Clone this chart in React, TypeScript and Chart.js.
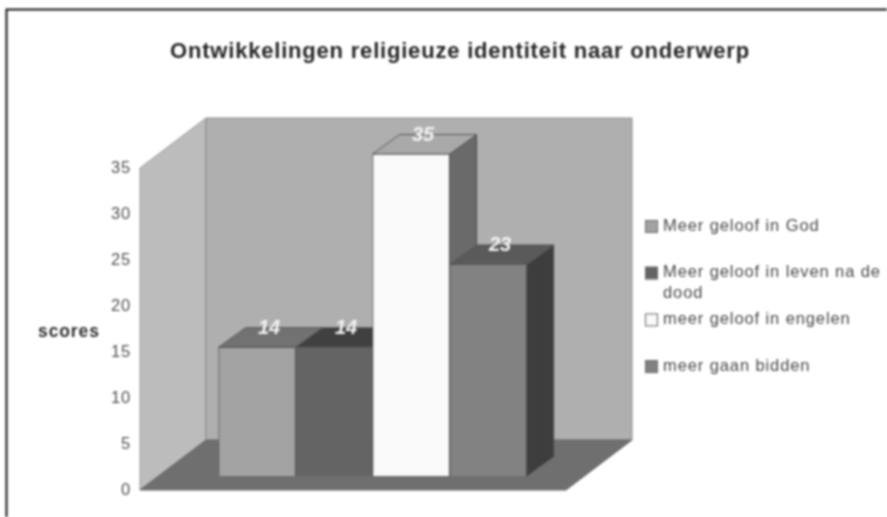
import React, { useEffect, useRef } from "react";
import { Chart, registerables } from "chart.js";

Chart.register(...registerables);

const chartTitle = "Ontwikkelingen religieuze identiteit naar onderwerp";
const axisLabel = "scores";
const seriesNames = [
  "Meer geloof in God",
  "Meer geloof in leven na de dood",
  "meer geloof in engelen",
  "meer gaan bidden",
];
const seriesValues = [14, 14, 35, 23];
const frontColors = ["#a3a3a3", "#646464", "#f9f9f9", "#828282"];
const topColors = ["#727272", "#404040", "#a9a9a9", "#5a5a5a"];
const sideColors = ["#5c5c5c", "#3a3a3a", "#6a6a6a", "#3d3d3d"];

const DEPTH_X = 66;
const DEPTH_Y = 50;
const BAR_DEPTH_X = 27;
const BAR_DEPTH_Y = 19.5;
const FONT = '"Liberation Sans", Arial, sans-serif';

function poly(ctx: CanvasRenderingContext2D, pts: number[][], fill: string, stroke: string) {
  ctx.beginPath();
  pts.forEach((p, i) => (i ? ctx.lineTo(p[0], p[1]) : ctx.moveTo(p[0], p[1])));
  ctx.closePath();
  ctx.fillStyle = fill;
  ctx.fill();
  ctx.strokeStyle = stroke;
  ctx.lineWidth = 1;
  ctx.stroke();
}

const scene = {
  id: "scene",
  beforeDraw(chart: any) {
    // the title and tick labels of the scanned original are widely set
    (chart.ctx as any).letterSpacing = "0.8px";
  },
  beforeDatasetsDraw(chart: any) {
    const { ctx, chartArea: a, scales } = chart;
    (ctx as any).letterSpacing = "0px";
    const y0 = scales.y.getPixelForValue(0);
    const yT = scales.y.getPixelForValue(35);
    const l = a.left;
    const r = a.right;
    ctx.save();
    // page frame
    ctx.strokeStyle = "#141414";
    ctx.lineWidth = 2;
    ctx.beginPath();
    ctx.moveTo(6.5, 517);
    ctx.lineTo(6.5, 9.5);
    ctx.lineTo(887, 9.5);
    ctx.stroke();
    // walls and floor
    poly(ctx, [[l, yT], [l + DEPTH_X, yT - DEPTH_Y], [l + DEPTH_X, y0 - DEPTH_Y], [l, y0]], "#bcbcbc", "#999999");
    poly(ctx, [[l + DEPTH_X, yT - DEPTH_Y], [r + DEPTH_X, yT - DEPTH_Y], [r + DEPTH_X, y0 - DEPTH_Y], [l + DEPTH_X, y0 - DEPTH_Y]], "#afafaf", "#8e8e8e");
    poly(ctx, [[l, y0], [l + DEPTH_X, y0 - DEPTH_Y], [r + DEPTH_X, y0 - DEPTH_Y], [r, y0]], "#6f6f6f", "#6a6a6a");
    // bar depth faces, sized from the bar elements
    chart.data.datasets.forEach((_: any, i: number) => {
      const b = chart.getDatasetMeta(i).data[0];
      const x1 = b.x - b.width / 2;
      const x2 = b.x + b.width / 2;
      const t = b.y;
      const bt = b.base;
      poly(ctx, [[x2, t], [x2 + BAR_DEPTH_X, t - BAR_DEPTH_Y], [x2 + BAR_DEPTH_X, bt - BAR_DEPTH_Y], [x2, bt]], sideColors[i], "#4a4a4a");
      poly(ctx, [[x1, t], [x1 + BAR_DEPTH_X, t - BAR_DEPTH_Y], [x2 + BAR_DEPTH_X, t - BAR_DEPTH_Y], [x2, t]], topColors[i], "#5a5a5a");
    });
    ctx.restore();
  },
  afterDatasetsDraw(chart: any) {
    const { ctx } = chart;
    ctx.save();
    // value labels
    ctx.font = `italic bold 20px ${FONT}`;
    ctx.fillStyle = "#f4f4f4";
    ctx.textAlign = "center";
    ctx.textBaseline = "middle";
    chart.data.datasets.forEach((ds: any, i: number) => {
      const b = chart.getDatasetMeta(i).data[0];
      ctx.fillText(String(ds.data[0].y), b.x + 12, b.y - 19);
    });
    // axis label
    ctx.font = `bold 17.5px ${FONT}`;
    ctx.fillStyle = "#2e2e2e";
    ctx.textAlign = "left";
    (ctx as any).letterSpacing = "0.9px";
    ctx.fillText(axisLabel, 38, 332);
    // legend
    ctx.font = `16.5px ${FONT}`;
    (ctx as any).letterSpacing = "0.9px";
    const legendX = 645;
    const textX = 663;
    chart.data.datasets.forEach((ds: any, i: number) => {
      const y = 226 + i * 46.7;
      ctx.fillStyle = frontColors[i];
      ctx.strokeStyle = "#6a6a6a";
      ctx.lineWidth = 1;
      ctx.fillRect(legendX, y - 6, 12, 12);
      ctx.strokeRect(legendX + 0.5, y - 5.5, 12, 12);
      ctx.fillStyle = "#484848";
      const words = ds.label.split(" ");
      const lines: string[] = [];
      let cur = "";
      for (const w of words) {
        const next = cur ? cur + " " + w : w;
        if (ctx.measureText(next).width > 224 && cur) {
          lines.push(cur);
          cur = w;
        } else cur = next;
      }
      lines.push(cur);
      lines.forEach((ln, k) => ctx.fillText(ln, textX, y + k * 21));
    });
    ctx.restore();
  },
};

export default function App() {
  const ref = useRef<HTMLCanvasElement>(null);
  useEffect(() => {
    const chart = new Chart(ref.current as HTMLCanvasElement, {
      type: "bar",
      data: {
        datasets: seriesNames.map((name, i) => ({
          label: name,
          data: [{ x: 0, y: seriesValues[i] }],
          backgroundColor: frontColors[i],
          borderColor: "#5a5a5a",
          borderWidth: 1,
          barThickness: 77,
          yAxisID: "y2",
          clip: false as any,
        })),
      },
      options: {
        responsive: false,
        animation: false,
        layout: { padding: { left: 33, right: 0, top: 0, bottom: 27 } },
        plugins: {
          legend: { display: false },
          tooltip: { enabled: false },
          title: {
            display: true,
            text: chartTitle,
            color: "#262626",
            font: { family: FONT, size: 22, weight: "bold" },
            padding: { top: 39, bottom: 102.6 },
          },
        },
        scales: {
          x: {
            type: "linear",
            display: false,
            min: -0.546,
            max: 0.454,
            offset: false,
            grid: { display: false, offset: false },
          },
          y: {
            position: "left",
            min: 0,
            max: 35,
            ticks: { stepSize: 5, padding: 1, color: "#4f4f4f", font: { family: FONT, size: 16.5 } },
            grid: { display: false },
            border: { display: false },
            afterFit: (s: any) => { s.width = 107; },
          },
          y2: {
            position: "right",
            min: -1.52,
            max: 33.48,
            ticks: { display: false },
            grid: { display: false },
            border: { display: false },
            afterFit: (s: any) => { s.width = 321; },
          },
        },
      } as any,
      plugins: [scene],
    });
    return () => chart.destroy();
  }, []);
  return (
    <div style={{ position: "absolute", left: 0, top: 0, width: 887, height: 517, background: "#fff" }}>
      <canvas ref={ref} width={887} height={517} style={{ display: "block", filter: "blur(0.8px)" }} />
    </div>
  );
}
